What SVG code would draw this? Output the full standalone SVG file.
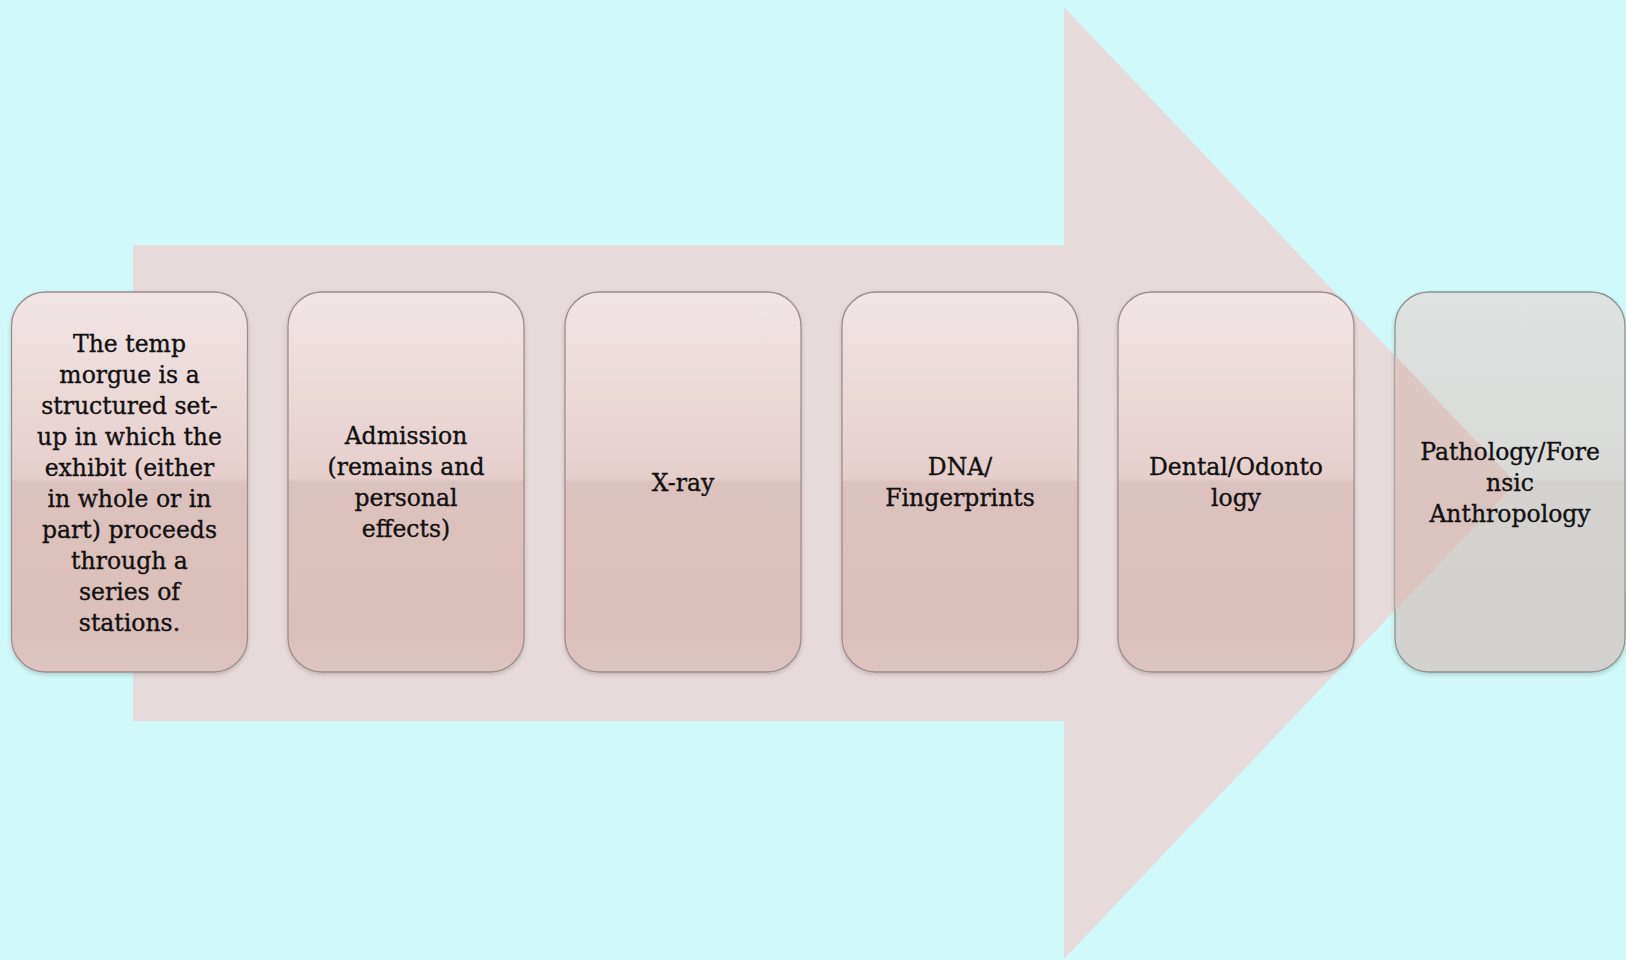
<svg xmlns="http://www.w3.org/2000/svg" width="1626" height="960" viewBox="0 0 1626 960">
<defs>
<linearGradient id="pink" x1="0" y1="0" x2="0" y2="1">
<stop offset="0" stop-color="#f1e5e5"/>
<stop offset="0.49" stop-color="#e5cfcd"/>
<stop offset="0.5" stop-color="#dcc2be"/>
<stop offset="0.9" stop-color="#dbbfbb"/>
<stop offset="1" stop-color="#dec5c2"/>
</linearGradient>
<linearGradient id="gray" x1="0" y1="0" x2="0" y2="1">
<stop offset="0" stop-color="#dee2e0"/>
<stop offset="0.49" stop-color="#d9dad8"/>
<stop offset="0.5" stop-color="#d4d3d0"/>
<stop offset="1" stop-color="#d2d1ce"/>
</linearGradient>
<clipPath id="b6clip"><rect x="1395" y="292" width="230" height="380" rx="34"/></clipPath>
<filter id="sh" x="-10%" y="-10%" width="120%" height="120%">
<feDropShadow dx="0" dy="2" stdDeviation="2" flood-color="#000" flood-opacity="0.18"/>
</filter>
</defs>
<style>
.box{stroke:#9d8d8c;stroke-width:1.3;filter:url(#sh)}
.p{fill:url(#pink)}
.g{fill:url(#gray);stroke:#8f9391}
text{font-family:"DejaVu Serif","Liberation Serif",serif;font-size:23.5px;fill:#111;stroke:#111;stroke-width:0.35;text-anchor:middle}
</style>
<rect width="1626" height="960" fill="#cffaf9"/>
<g id="connectors">
<polygon id="arrow" points="133,245 1064,245 1064,7 1516,483 1064,959 1064,721 133,721" fill="#e6dbda"/>
</g>
<g id="n1">
<rect class="box p" x="11.5" y="292" width="236" height="380" rx="34"/>
<text x="129.5" y="352">The temp</text>
<text x="129.5" y="383">morgue is a</text>
<text x="129.5" y="414">structured set-</text>
<text x="129.5" y="445">up in which the</text>
<text x="129.5" y="476">exhibit (either</text>
<text x="129.5" y="507">in whole or in</text>
<text x="129.5" y="538">part) proceeds</text>
<text x="129.5" y="569">through a</text>
<text x="129.5" y="600">series of</text>
<text x="129.5" y="631">stations.</text>
</g>
<g id="n2">
<rect class="box p" x="288" y="292" width="236" height="380" rx="34"/>
<text x="406" y="444">Admission</text>
<text x="406" y="475">(remains and</text>
<text x="406" y="506">personal</text>
<text x="406" y="537">effects)</text>
</g>
<g id="n3">
<rect class="box p" x="565" y="292" width="236" height="380" rx="34"/>
<text x="683" y="491">X-ray</text>
</g>
<g id="n4">
<rect class="box p" x="842" y="292" width="236" height="380" rx="34"/>
<text x="960" y="475">DNA/</text>
<text x="960" y="506">Fingerprints</text>
</g>
<g id="n5">
<rect class="box p" x="1118" y="292" width="236" height="380" rx="34"/>
<text x="1236" y="475">Dental/Odonto</text>
<text x="1236" y="506">logy</text>
</g>
<g id="n6">
<rect class="box g" x="1395" y="292" width="230" height="380" rx="34"/>
<polygon clip-path="url(#b6clip)" points="1064,7 1516,483 1064,959" fill="#dcc0bc" opacity="0.8"/>
<text x="1510" y="460">Pathology/Fore</text>
<text x="1510" y="491">nsic</text>
<text x="1510" y="522">Anthropology</text>
</g>
</svg>
